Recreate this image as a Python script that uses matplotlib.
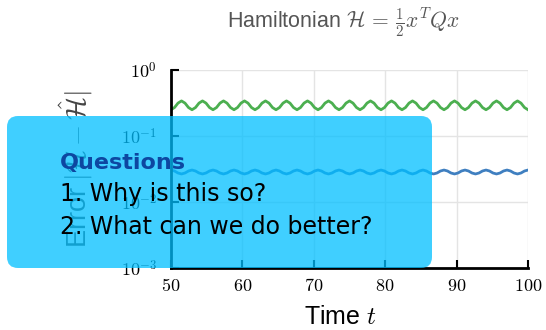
import numpy as np
import matplotlib
matplotlib.use("Agg")
import matplotlib.pyplot as plt
from matplotlib.patches import FancyBboxPatch

plt.rcParams['font.family'] = ['Liberation Sans', 'DejaVu Sans']
plt.rcParams['mathtext.fontset'] = 'cm'

# sampled every 1/6 of an oscillation period (17 periods between t=50 and t=100)
t = np.linspace(50, 100, 103)

err_green = [
    0.250, 0.270, 0.315, 0.340, 0.315, 0.270,
    0.250, 0.270, 0.315, 0.340, 0.315, 0.270,
    0.250, 0.270, 0.315, 0.340, 0.315, 0.270,
    0.250, 0.270, 0.315, 0.340, 0.315, 0.270,
    0.250, 0.270, 0.315, 0.340, 0.315, 0.270,
    0.250, 0.270, 0.315, 0.340, 0.315, 0.270,
    0.250, 0.270, 0.315, 0.340, 0.315, 0.270,
    0.250, 0.270, 0.315, 0.340, 0.315, 0.270,
    0.250, 0.270, 0.315, 0.340, 0.315, 0.270,
    0.250, 0.270, 0.315, 0.340, 0.315, 0.270,
    0.250, 0.270, 0.315, 0.340, 0.315, 0.270,
    0.250, 0.270, 0.315, 0.340, 0.315, 0.270,
    0.250, 0.270, 0.315, 0.340, 0.315, 0.270,
    0.250, 0.270, 0.315, 0.340, 0.315, 0.270,
    0.250, 0.270, 0.315, 0.340, 0.315, 0.270,
    0.250, 0.270, 0.315, 0.340, 0.315, 0.270,
    0.250, 0.270, 0.315, 0.340, 0.315, 0.270,
    0.250,
]

err_blue = [
    0.0305, 0.0295, 0.0275, 0.0266, 0.0275, 0.0295,
    0.0305, 0.0295, 0.0275, 0.0266, 0.0275, 0.0295,
    0.0305, 0.0295, 0.0275, 0.0266, 0.0275, 0.0295,
    0.0305, 0.0295, 0.0275, 0.0266, 0.0275, 0.0295,
    0.0305, 0.0295, 0.0275, 0.0266, 0.0275, 0.0295,
    0.0305, 0.0295, 0.0275, 0.0266, 0.0275, 0.0295,
    0.0305, 0.0295, 0.0275, 0.0266, 0.0275, 0.0295,
    0.0305, 0.0295, 0.0275, 0.0266, 0.0275, 0.0295,
    0.0305, 0.0295, 0.0275, 0.0266, 0.0275, 0.0295,
    0.0305, 0.0295, 0.0275, 0.0266, 0.0275, 0.0295,
    0.0305, 0.0295, 0.0275, 0.0266, 0.0275, 0.0295,
    0.0305, 0.0295, 0.0275, 0.0266, 0.0275, 0.0295,
    0.0305, 0.0295, 0.0275, 0.0266, 0.0275, 0.0295,
    0.0305, 0.0295, 0.0275, 0.0266, 0.0275, 0.0295,
    0.0305, 0.0295, 0.0275, 0.0266, 0.0275, 0.0295,
    0.0305, 0.0295, 0.0275, 0.0266, 0.0275, 0.0295,
    0.0305, 0.0295, 0.0275, 0.0266, 0.0275, 0.0295,
    0.0305,
]

x_ticks = [50, 60, 70, 80, 90, 100]
y_ticks = [1e-3, 1e-2, 1e-1, 1e0]
y_ticklabels = [r'$10^{-3}$', r'$10^{-2}$', r'$10^{-1}$', r'$10^{0}$']
questions = ['1. Why is this so?', '2. What can we do better?']

fig = plt.figure(figsize=(5.46, 3.3), dpi=100)
ax = fig.add_axes([171/546, 62/330, 357/546, 198/330])

ax.plot(t, err_green, color='#4CAF50', lw=2)
ax.plot(t, err_blue, color='#3F7FC0', lw=2)

ax.set_yscale('log')
ax.set_xlim(50, 100)
ax.set_ylim(1e-3, 1)
ax.set_xticks(x_ticks)
ax.set_xticklabels([r'$%d$' % v for v in x_ticks])
ax.set_yticks(y_ticks)
ax.set_yticklabels(y_ticklabels)
ax.minorticks_off()
ax.tick_params(direction='in', length=6, width=1.5, labelsize=13)
ax.tick_params(axis='x', pad=7)
ax.tick_params(axis='y', pad=10)
ax.grid(True, color='#e4e4e4', lw=1)
for s in ['top', 'right']:
    ax.spines[s].set_visible(False)
for s in ['left', 'bottom']:
    ax.spines[s].set_linewidth(2)

fig.text(343/546, 1 - 23/330, r'Hamiltonian $\mathcal{H}\, =\, \frac{1}{2}x^TQx$',
         ha='center', va='center', fontsize=15.5, color='#555555')
fig.text(340/546, 1 - 317/330, r'Time $t$', ha='center', va='center', fontsize=18)
fig.text(76/546, 1 - 169/330, r'Error $|\mathcal{H} - \hat{\mathcal{H}}|$',
         ha='center', va='center', rotation=90, fontsize=19.5, color='#444444')

# overlay box with questions (inches from bottom-left)
box = FancyBboxPatch((0.07, 0.62), 4.25, 1.52, boxstyle='round,pad=0,rounding_size=0.11',
                     transform=fig.dpi_scale_trans, facecolor='#00BFFF', alpha=0.75,
                     edgecolor='none', zorder=10)
fig.patches.append(box)
fig.text(0.60, 3.30 - 1.69, 'Questions', transform=fig.dpi_scale_trans, fontsize=16,
         fontweight='bold', color='#0D47A1', va='baseline', zorder=11, family='DejaVu Sans')
for i, q in enumerate(questions):
    fig.text(0.60, 3.30 - 2.01 - 0.33*i, q, transform=fig.dpi_scale_trans, fontsize=17,
             color='black', va='baseline', zorder=11, family='DejaVu Sans')

fig.savefig('out.png', dpi=100)
